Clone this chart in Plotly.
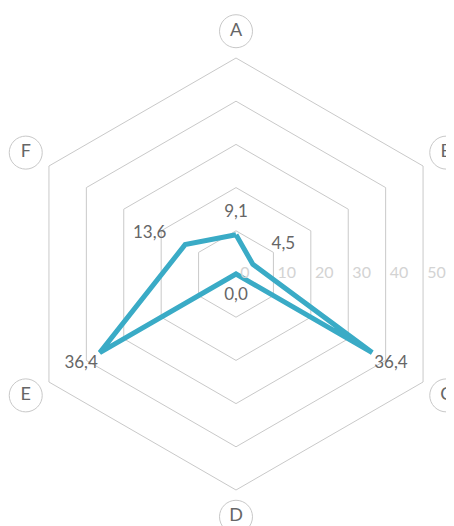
import math
import plotly.graph_objects as go

categories = ["A", "B", "C", "D", "E", "F"]
values = [9.1, 4.5, 36.4, 0.0, 36.4, 13.6]
value_labels = ["9,1", "4,5", "36,4", "0,0", "36,4", "13,6"]
radial_ticks = [0, 10, 20, 30, 40, 50]
radial_tick_labels = ["0", "10", "20", "30", "40", "50"]

R_MAX = 50
LABEL_R = 56.2          # radius (in data units) of the category badges
LABEL_PAD = 5
FONT = "Lato"
LINE_COLOR = "#3aabc6"
GRID_COLOR = "#c9c9c9"

# figure geometry (page body adds an 8px offset)
W, H = 446, 518
CX, CY = 228, 266        # polar centre in figure pixels (from left / top)
RPX = 216                # pixel radius of the outer hexagon
K = RPX / R_MAX          # pixels per data unit

fig = go.Figure()

# data line (closed)
fig.add_trace(go.Scatterpolar(
    r=values + values[:1], theta=categories + categories[:1],
    mode="lines", line=dict(color=LINE_COLOR, width=5),
    hoverinfo="skip", subplot="polar", cliponaxis=False,
))

# value labels
fig.add_trace(go.Scatterpolar(
    r=[v + LABEL_PAD for v in values], theta=categories,
    mode="text", text=value_labels,
    textposition=["middle center", "top right", "middle center",
                  "middle center", "middle center", "middle left"],
    textfont=dict(family=FONT, size=17, color="#666666"),
    hoverinfo="skip", subplot="polar", cliponaxis=False,
))

# radial tick labels (on the hexagon edges at angle 0)
fig.add_trace(go.Scatterpolar(
    r=radial_ticks, theta=[0] * len(radial_ticks),
    mode="markers+text", text=radial_tick_labels, textposition="middle right",
    marker=dict(size=5, opacity=0),
    textfont=dict(family=FONT, size=16, color="#d3d3d3"),
    hoverinfo="skip", subplot="polar2", cliponaxis=False,
))

# category badges (circle + letter) placed at the category angles
angles = [math.radians(90 - 360 * i / len(categories)) for i in range(len(categories))]
fig.add_trace(go.Scatter(
    x=[LABEL_R * math.cos(a) for a in angles],
    y=[LABEL_R * math.sin(a) for a in angles],
    mode="markers+text", text=categories, textposition="middle center",
    marker=dict(size=33, color="white", line=dict(color="#c8c8c8", width=1)),
    textfont=dict(family=FONT, size=18, color="#666666"),
    hoverinfo="skip", cliponaxis=False,
))

dom_x = [(CX - RPX) / W, (CX + RPX) / W]
dom_y = [(H - CY - RPX) / H, (H - CY + RPX) / H]

fig.update_layout(
    width=W, height=H,
    margin=dict(l=0, r=0, t=0, b=0),
    paper_bgcolor="white", plot_bgcolor="rgba(0,0,0,0)",
    showlegend=False,
    xaxis=dict(visible=False, range=[-CX / K, (W - CX) / K], domain=[0, 1]),
    yaxis=dict(visible=False, range=[-(H - CY) / K, CY / K], domain=[0, 1]),
    polar=dict(
        domain=dict(x=dom_x, y=dom_y),
        gridshape="linear",
        bgcolor="rgba(0,0,0,0)",
        radialaxis=dict(range=[0, R_MAX], tickvals=radial_ticks[1:],
                        showticklabels=False, ticks="", showline=False,
                        gridcolor=GRID_COLOR, gridwidth=1),
        angularaxis=dict(rotation=90, direction="clockwise",
                         categoryorder="array", categoryarray=categories,
                         showgrid=False, showticklabels=False, ticks="",
                         linecolor=GRID_COLOR, linewidth=1),
    ),
    polar2=dict(
        domain=dict(x=dom_x, y=dom_y),
        bgcolor="rgba(0,0,0,0)",
        radialaxis=dict(range=[0, R_MAX / math.cos(math.radians(30))],
                        visible=False),
        angularaxis=dict(visible=False, rotation=0, direction="counterclockwise"),
    ),
)

fig.write_html("out.html")
